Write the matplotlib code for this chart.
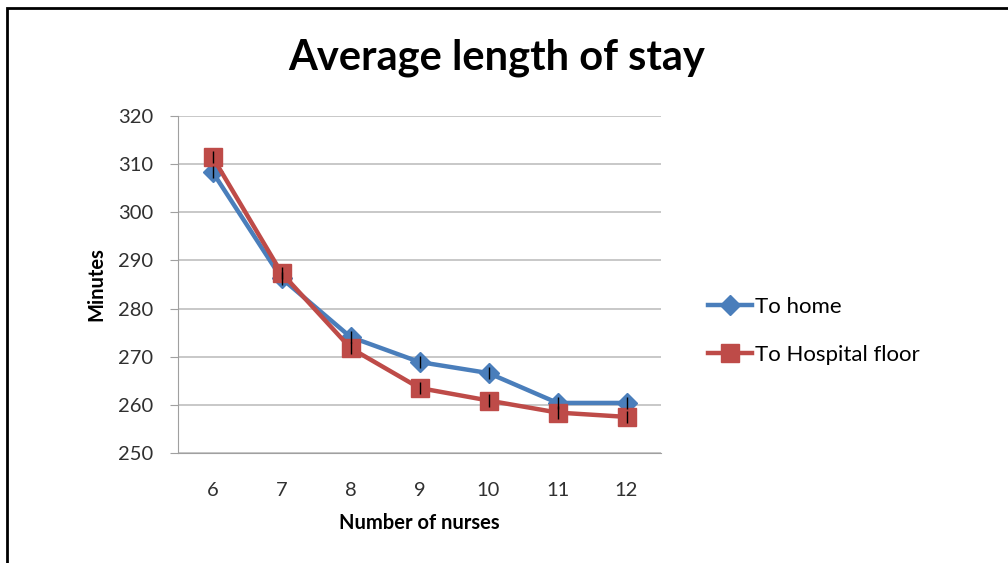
import numpy as np
import matplotlib.pyplot as plt
from matplotlib.patches import Rectangle

# datos
nurses = [6, 7, 8, 9, 10, 11, 12]
to_home = [308.4, 286.3, 274.1, 268.9, 266.6, 260.4, 260.4]
to_floor = [311.5, 287.4, 271.8, 263.5, 260.9, 258.4, 257.5]
err = [1.3, 1.3, 1.3, 1.3, 1.3, 1.3, 1.3]

plt.rcParams['font.family'] = ['Lato', 'DejaVu Sans']

fig = plt.figure(figsize=(10.08, 5.63), dpi=100)
ax = fig.add_axes([178/1008, 1-453/563, (661-178)/1008, (453-116)/563])

# marco exterior (solo se ven lados izquierdo y superior)
fig.add_artist(Rectangle((7/1008, -0.05), 1.1, 1-8/563+0.05,
                         transform=fig.transFigure, fill=False,
                         edgecolor='black', linewidth=2))

ax.plot(nurses, to_home, color='#4a7ebb', linewidth=3.2, marker='D',
        markersize=10, label='To home', zorder=3)
ax.plot(nurses, to_floor, color='#be4b48', linewidth=3.2, marker='s',
        markersize=13, label='To Hospital floor', zorder=3)
ax.errorbar(nurses, to_home, yerr=err, fmt='none', ecolor='black',
            elinewidth=1, zorder=4)
ax.errorbar(nurses, to_floor, yerr=err, fmt='none', ecolor='black',
            elinewidth=1, zorder=4)

ax.set_xlim(5.5, 12.5)
ax.set_ylim(250, 320)
ax.set_xticks(nurses)
ax.set_yticks(np.arange(250, 321, 10))
ax.grid(axis='y', color='#bfbfbf', linewidth=1.2)
ax.set_axisbelow(True)
for s in ['top', 'right']:
    ax.spines[s].set_visible(False)
ax.spines['left'].set_color('#a0a0a0')
ax.spines['bottom'].set_color('#a0a0a0')
ax.tick_params(axis='y', length=6, color='#a0a0a0', labelsize=14.5, pad=12,
               labelcolor='#303030')
ax.tick_params(axis='x', length=0, labelsize=14.5, pad=21, labelcolor='#303030')

ax.set_xlabel('Number of nurses', fontsize=14.5, fontweight='bold', labelpad=10)
ax.set_ylabel('Minutes', fontsize=14.5, fontweight='bold', labelpad=8)
fig.text(497/1008, 1-58/563, 'Average length of stay', fontsize=30,
         fontweight='bold', ha='center', va='center')

fig.legend(loc='center left', bbox_to_anchor=(688/1008, 1-331/563),
           frameon=False, fontsize=16, handlelength=2.0, handletextpad=0.1,
           labelspacing=1.25)

plt.savefig('out.png')
